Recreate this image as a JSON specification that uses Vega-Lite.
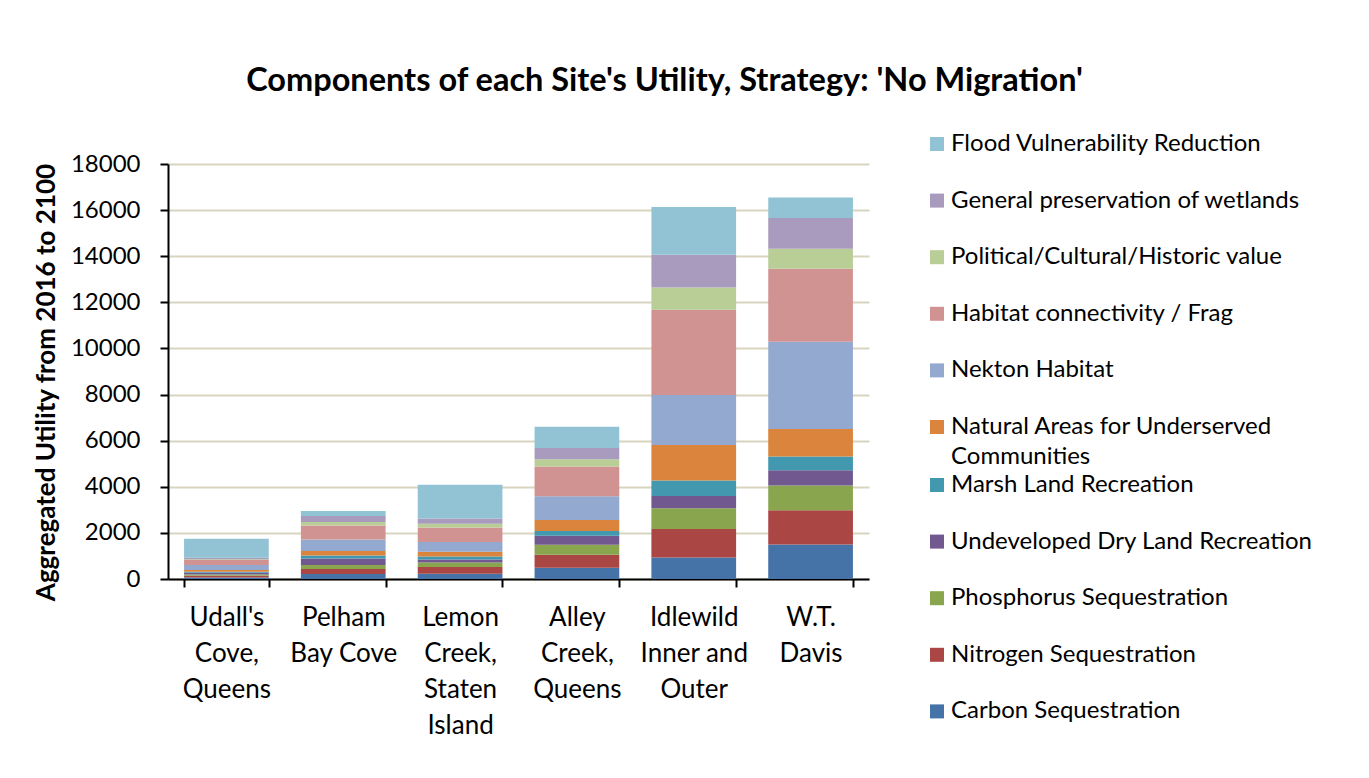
{
  "$schema": "https://vega.github.io/schema/vega-lite/v6.json",
  "autosize": "none",
  "width": 701,
  "height": 415,
  "padding": {"left": 168, "top": 164, "right": 500, "bottom": 199},
  "background": "white",
  "title": {
    "text": "Components of each Site's Utility, Strategy: 'No Migration'",
    "fontSize": 32.5,
    "fontWeight": "bold",
    "font": "Lato",
    "color": "black",
    "anchor": "middle",
    "frame": "group",
    "dx": 146,
    "offset": 35
  },
  "datasets": {
    "components": [
      {"component": "Carbon Sequestration", "rank": 1},
      {"component": "Nitrogen Sequestration", "rank": 2},
      {"component": "Phosphorus Sequestration", "rank": 3},
      {"component": "Undeveloped Dry Land Recreation", "rank": 4},
      {"component": "Marsh Land Recreation", "rank": 5},
      {"component": "Natural Areas for Underserved Communities", "rank": 6},
      {"component": "Nekton Habitat", "rank": 7},
      {"component": "Habitat connectivity / Frag", "rank": 8},
      {"component": "Political/Cultural/Historic value", "rank": 9},
      {"component": "General preservation of wetlands", "rank": 10},
      {"component": "Flood Vulnerability Reduction", "rank": 11}
    ]
  },
  "data": {
    "values": [
      {"site": "Udall's Cove, Queens", "component": "Carbon Sequestration", "value": 70},
      {"site": "Udall's Cove, Queens", "component": "Nitrogen Sequestration", "value": 72},
      {"site": "Udall's Cove, Queens", "component": "Phosphorus Sequestration", "value": 58},
      {"site": "Udall's Cove, Queens", "component": "Undeveloped Dry Land Recreation", "value": 72},
      {"site": "Udall's Cove, Queens", "component": "Marsh Land Recreation", "value": 43},
      {"site": "Udall's Cove, Queens", "component": "Natural Areas for Underserved Communities", "value": 72},
      {"site": "Udall's Cove, Queens", "component": "Nekton Habitat", "value": 216},
      {"site": "Udall's Cove, Queens", "component": "Habitat connectivity / Frag", "value": 216},
      {"site": "Udall's Cove, Queens", "component": "Political/Cultural/Historic value", "value": 43},
      {"site": "Udall's Cove, Queens", "component": "General preservation of wetlands", "value": 58},
      {"site": "Udall's Cove, Queens", "component": "Flood Vulnerability Reduction", "value": 822},
      {"site": "Pelham Bay Cove", "component": "Carbon Sequestration", "value": 216},
      {"site": "Pelham Bay Cove", "component": "Nitrogen Sequestration", "value": 216},
      {"site": "Pelham Bay Cove", "component": "Phosphorus Sequestration", "value": 173},
      {"site": "Pelham Bay Cove", "component": "Undeveloped Dry Land Recreation", "value": 288},
      {"site": "Pelham Bay Cove", "component": "Marsh Land Recreation", "value": 130},
      {"site": "Pelham Bay Cove", "component": "Natural Areas for Underserved Communities", "value": 187},
      {"site": "Pelham Bay Cove", "component": "Nekton Habitat", "value": 504},
      {"site": "Pelham Bay Cove", "component": "Habitat connectivity / Frag", "value": 605},
      {"site": "Pelham Bay Cove", "component": "Political/Cultural/Historic value", "value": 158},
      {"site": "Pelham Bay Cove", "component": "General preservation of wetlands", "value": 259},
      {"site": "Pelham Bay Cove", "component": "Flood Vulnerability Reduction", "value": 216},
      {"site": "Lemon Creek, Staten Island", "component": "Carbon Sequestration", "value": 230},
      {"site": "Lemon Creek, Staten Island", "component": "Nitrogen Sequestration", "value": 288},
      {"site": "Lemon Creek, Staten Island", "component": "Phosphorus Sequestration", "value": 202},
      {"site": "Lemon Creek, Staten Island", "component": "Undeveloped Dry Land Recreation", "value": 130},
      {"site": "Lemon Creek, Staten Island", "component": "Marsh Land Recreation", "value": 130},
      {"site": "Lemon Creek, Staten Island", "component": "Natural Areas for Underserved Communities", "value": 202},
      {"site": "Lemon Creek, Staten Island", "component": "Nekton Habitat", "value": 418},
      {"site": "Lemon Creek, Staten Island", "component": "Habitat connectivity / Frag", "value": 634},
      {"site": "Lemon Creek, Staten Island", "component": "Political/Cultural/Historic value", "value": 158},
      {"site": "Lemon Creek, Staten Island", "component": "General preservation of wetlands", "value": 230},
      {"site": "Lemon Creek, Staten Island", "component": "Flood Vulnerability Reduction", "value": 1469},
      {"site": "Alley Creek, Queens", "component": "Carbon Sequestration", "value": 489},
      {"site": "Alley Creek, Queens", "component": "Nitrogen Sequestration", "value": 561},
      {"site": "Alley Creek, Queens", "component": "Phosphorus Sequestration", "value": 432},
      {"site": "Alley Creek, Queens", "component": "Undeveloped Dry Land Recreation", "value": 389},
      {"site": "Alley Creek, Queens", "component": "Marsh Land Recreation", "value": 216},
      {"site": "Alley Creek, Queens", "component": "Natural Areas for Underserved Communities", "value": 475},
      {"site": "Alley Creek, Queens", "component": "Nekton Habitat", "value": 1022},
      {"site": "Alley Creek, Queens", "component": "Habitat connectivity / Frag", "value": 1295},
      {"site": "Alley Creek, Queens", "component": "Political/Cultural/Historic value", "value": 317},
      {"site": "Alley Creek, Queens", "component": "General preservation of wetlands", "value": 489},
      {"site": "Alley Creek, Queens", "component": "Flood Vulnerability Reduction", "value": 921},
      {"site": "Idlewild Inner and Outer", "component": "Carbon Sequestration", "value": 935},
      {"site": "Idlewild Inner and Outer", "component": "Nitrogen Sequestration", "value": 1238},
      {"site": "Idlewild Inner and Outer", "component": "Phosphorus Sequestration", "value": 892},
      {"site": "Idlewild Inner and Outer", "component": "Undeveloped Dry Land Recreation", "value": 532},
      {"site": "Idlewild Inner and Outer", "component": "Marsh Land Recreation", "value": 676},
      {"site": "Idlewild Inner and Outer", "component": "Natural Areas for Underserved Communities", "value": 1540},
      {"site": "Idlewild Inner and Outer", "component": "Nekton Habitat", "value": 2172},
      {"site": "Idlewild Inner and Outer", "component": "Habitat connectivity / Frag", "value": 3694},
      {"site": "Idlewild Inner and Outer", "component": "Political/Cultural/Historic value", "value": 966},
      {"site": "Idlewild Inner and Outer", "component": "General preservation of wetlands", "value": 1415},
      {"site": "Idlewild Inner and Outer", "component": "Flood Vulnerability Reduction", "value": 2077},
      {"site": "W.T. Davis", "component": "Carbon Sequestration", "value": 1497},
      {"site": "W.T. Davis", "component": "Nitrogen Sequestration", "value": 1482},
      {"site": "W.T. Davis", "component": "Phosphorus Sequestration", "value": 1079},
      {"site": "W.T. Davis", "component": "Undeveloped Dry Land Recreation", "value": 662},
      {"site": "W.T. Davis", "component": "Marsh Land Recreation", "value": 590},
      {"site": "W.T. Davis", "component": "Natural Areas for Underserved Communities", "value": 1200},
      {"site": "W.T. Davis", "component": "Nekton Habitat", "value": 3784},
      {"site": "W.T. Davis", "component": "Habitat connectivity / Frag", "value": 3161},
      {"site": "W.T. Davis", "component": "Political/Cultural/Historic value", "value": 865},
      {"site": "W.T. Davis", "component": "General preservation of wetlands", "value": 1342},
      {"site": "W.T. Davis", "component": "Flood Vulnerability Reduction", "value": 881}
    ]
  },
  "transform": [
    {"lookup": "component", "from": {"data": {"name": "components"}, "key": "component", "fields": ["rank"]}}
  ],
  "encoding": {
    "x": {
      "field": "site",
      "type": "nominal",
      "sort": null,
      "scale": {"paddingInner": 0.275, "paddingOuter": 0.1375},
      "axis": {
        "title": null,
        "labelAngle": 0,
        "labelFontSize": 26,
        "labelLineHeight": 36,
        "labelPadding": 17,
        "labelBaseline": "top",
        "labelColor": "black",
        "tickBand": "extent",
        "tickSize": 8,
        "tickWidth": 2,
        "tickColor": "black",
        "domainColor": "black",
        "domainWidth": 2,
        "grid": false,
        "labelExpr": "datum.label == 'Pelham Bay Cove' ? ['Pelham', 'Bay Cove'] : datum.label == 'Idlewild Inner and Outer' ? ['Idlewild', 'Inner and', 'Outer'] : split(datum.label, ' ')"
      }
    },
    "y": {
      "field": "value",
      "type": "quantitative",
      "aggregate": "sum",
      "stack": "zero",
      "scale": {"domain": [0, 18000], "nice": false},
      "axis": {
        "title": "Aggregated Utility from 2016 to 2100",
        "titleFontSize": 26,
        "titleFontWeight": "bold",
        "titleColor": "black",
        "titlePadding": 11,
        "titleY": 218,
        "values": [0, 2000, 4000, 6000, 8000, 10000, 12000, 14000, 16000, 18000],
        "format": "d",
        "labelFontSize": 24,
        "labelColor": "black",
        "labelPadding": 20,
        "tickSize": 8,
        "tickWidth": 2,
        "tickColor": "black",
        "domainColor": "black",
        "domainWidth": 2,
        "grid": true,
        "gridColor": "#D9D4BF",
        "gridWidth": 2
      }
    },
    "order": {"field": "rank", "type": "quantitative", "sort": "ascending"}
  },
  "layer": [
    {
      "mark": {"type": "bar"},
      "encoding": {
        "color": {
          "field": "component",
          "type": "nominal",
          "sort": [
            "Carbon Sequestration",
            "Nitrogen Sequestration",
            "Phosphorus Sequestration",
            "Undeveloped Dry Land Recreation",
            "Marsh Land Recreation",
            "Natural Areas for Underserved Communities",
            "Nekton Habitat",
            "Habitat connectivity / Frag",
            "Political/Cultural/Historic value",
            "General preservation of wetlands",
            "Flood Vulnerability Reduction"
          ],
          "scale": {
            "domain": [
              "Carbon Sequestration",
              "Nitrogen Sequestration",
              "Phosphorus Sequestration",
              "Undeveloped Dry Land Recreation",
              "Marsh Land Recreation",
              "Natural Areas for Underserved Communities",
              "Nekton Habitat",
              "Habitat connectivity / Frag",
              "Political/Cultural/Historic value",
              "General preservation of wetlands",
              "Flood Vulnerability Reduction"
            ],
            "range": ["#4572A7", "#AA4643", "#89A54E", "#71588F", "#4198AF", "#DB843D", "#93A9CF", "#D19392", "#B9CD96", "#A99BBD", "#92C3D4"]
          },
          "legend": {
            "title": null,
            "orient": "none",
            "legendX": 757,
            "legendY": -32,
            "values": [
              "Flood Vulnerability Reduction",
              "General preservation of wetlands",
              "Political/Cultural/Historic value",
              "Habitat connectivity / Frag",
              "Nekton Habitat",
              "Natural Areas for Underserved Communities"
            ],
            "symbolType": "square",
            "symbolSize": 196,
            "symbolStrokeWidth": 0,
            "labelFontSize": 24,
            "labelColor": "black",
            "labelOffset": 2,
            "labelLimit": 500,
            "rowPadding": 32.6,
            "labelExpr": "datum.label == 'Natural Areas for Underserved Communities' ? ['Natural Areas for Underserved', 'Communities'] : datum.label",
            "encode": {"labels": {"update": {"lineHeight": {"value": 30}}}}
          }
        }
      }
    },
    {
      "mark": {"type": "bar", "opacity": 0},
      "encoding": {
        "color": {
          "field": "component",
          "type": "nominal",
          "sort": [
            "Carbon Sequestration",
            "Nitrogen Sequestration",
            "Phosphorus Sequestration",
            "Undeveloped Dry Land Recreation",
            "Marsh Land Recreation",
            "Natural Areas for Underserved Communities",
            "Nekton Habitat",
            "Habitat connectivity / Frag",
            "Political/Cultural/Historic value",
            "General preservation of wetlands",
            "Flood Vulnerability Reduction"
          ],
          "scale": {
            "domain": [
              "Carbon Sequestration",
              "Nitrogen Sequestration",
              "Phosphorus Sequestration",
              "Undeveloped Dry Land Recreation",
              "Marsh Land Recreation",
              "Natural Areas for Underserved Communities",
              "Nekton Habitat",
              "Habitat connectivity / Frag",
              "Political/Cultural/Historic value",
              "General preservation of wetlands",
              "Flood Vulnerability Reduction"
            ],
            "range": ["#4572A7", "#AA4643", "#89A54E", "#71588F", "#4198AF", "#DB843D", "#93A9CF", "#D19392", "#B9CD96", "#A99BBD", "#92C3D4"]
          },
          "legend": {
            "title": null,
            "orient": "none",
            "legendX": 757,
            "legendY": 309,
            "values": [
              "Marsh Land Recreation",
              "Undeveloped Dry Land Recreation",
              "Phosphorus Sequestration",
              "Nitrogen Sequestration",
              "Carbon Sequestration"
            ],
            "symbolType": "square",
            "symbolSize": 196,
            "symbolStrokeWidth": 0,
            "symbolOpacity": 1,
            "labelFontSize": 24,
            "labelColor": "black",
            "labelOffset": 2,
            "labelLimit": 500,
            "rowPadding": 32.6
          }
        }
      }
    }
  ],
  "resolve": {"legend": {"color": "independent"}},
  "config": {
    "font": "Lato",
    "view": {"stroke": null}
  }
}
